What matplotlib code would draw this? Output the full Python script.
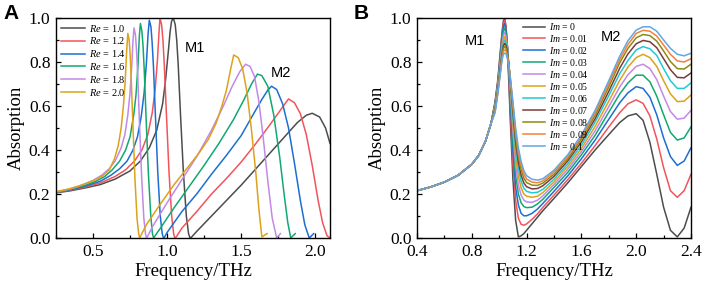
import numpy as np
import matplotlib
matplotlib.use("Agg")
import matplotlib.pyplot as plt
from matplotlib.ticker import MultipleLocator, FormatStrFormatter

# ---------------- Panel A: varying Re ----------------
re_labels = ["1.0", "1.2", "1.4", "1.6", "1.8", "2.0"]
re_colors = ["#4d4d4d", "#f2545b", "#1c6fd1", "#12a870", "#c389e6", "#dca21c"]

freq_re_10 = [0.25, 0.35, 0.45, 0.55, 0.65, 0.75, 0.82, 0.88, 0.93, 0.97, 0.99, 1.01, 1.02, 1.03, 1.042,
              1.055, 1.065, 1.075, 1.09, 1.11, 1.13, 1.145, 1.155, 1.165, 1.20, 1.30, 1.40, 1.50, 1.60, 1.70,
              1.80, 1.88, 1.94, 1.98, 2.03, 2.07, 2.10]
abs_re_10 = [0.205, 0.215, 0.228, 0.243, 0.268, 0.305, 0.35, 0.41, 0.49, 0.61, 0.72, 0.86, 0.935, 0.985, 1.0,
             0.97, 0.9, 0.79, 0.57, 0.3, 0.1, 0.02, 0.0, 0.004, 0.03, 0.1, 0.17, 0.24, 0.315, 0.39,
             0.465, 0.525, 0.558, 0.567, 0.55, 0.5, 0.43]

freq_re_12 = [0.25, 0.35, 0.45, 0.55, 0.65, 0.72, 0.78, 0.83, 0.87, 0.9, 0.92, 0.935, 0.945, 0.952, 0.963,
              0.972, 0.981, 0.995, 1.013, 1.031, 1.044, 1.052, 1.062, 1.1, 1.2, 1.3, 1.4, 1.5, 1.6, 1.7,
              1.78, 1.82, 1.86, 1.90, 1.94, 1.98, 2.02, 2.05, 2.08, 2.1]
abs_re_12 = [0.207, 0.218, 0.232, 0.25, 0.28, 0.31, 0.35, 0.40, 0.47, 0.57, 0.68, 0.81, 0.93, 1.0, 0.97,
             0.9, 0.79, 0.57, 0.3, 0.1, 0.02, 0.0, 0.005, 0.045, 0.12, 0.2, 0.27, 0.345, 0.43, 0.52,
             0.595, 0.632, 0.615, 0.565, 0.47, 0.33, 0.17, 0.07, 0.01, 0.0]

freq_re_14 = [0.25, 0.35, 0.45, 0.55, 0.62, 0.68, 0.73, 0.77, 0.8, 0.825, 0.845, 0.86, 0.872, 0.88, 0.891,
              0.899, 0.908, 0.921, 0.937, 0.954, 0.967, 0.976, 0.984, 1.0, 1.1, 1.2, 1.3, 1.4, 1.5, 1.58,
              1.64, 1.68, 1.705, 1.74, 1.78, 1.82, 1.86, 1.9, 1.93, 1.96, 1.99]
abs_re_14 = [0.208, 0.22, 0.236, 0.258, 0.285, 0.315, 0.35, 0.4, 0.46, 0.55, 0.66, 0.79, 0.93, 0.99, 0.96,
             0.89, 0.78, 0.56, 0.3, 0.1, 0.02, 0.0, 0.005, 0.025, 0.12, 0.2, 0.29, 0.375, 0.465, 0.56,
             0.63, 0.672, 0.69, 0.675, 0.61, 0.5, 0.34, 0.17, 0.06, 0.0, 0.02]

freq_re_16 = [0.25, 0.35, 0.45, 0.52, 0.58, 0.63, 0.68, 0.72, 0.75, 0.775, 0.79, 0.803, 0.813, 0.82, 0.83,
              0.838, 0.846, 0.858, 0.874, 0.89, 0.901, 0.909, 0.917, 0.95, 1.05, 1.15, 1.25, 1.35, 1.45,
              1.52, 1.57, 1.61, 1.64, 1.68, 1.72, 1.76, 1.79, 1.815, 1.835, 1.865]
abs_re_16 = [0.208, 0.222, 0.24, 0.258, 0.28, 0.31, 0.35, 0.4, 0.46, 0.56, 0.65, 0.78, 0.92, 0.975, 0.94,
             0.87, 0.76, 0.55, 0.29, 0.1, 0.02, 0.0, 0.008, 0.04, 0.14, 0.235, 0.33, 0.43, 0.54,
             0.63, 0.7, 0.745, 0.738, 0.69, 0.56, 0.37, 0.2, 0.07, 0.0, 0.02]

freq_re_18 = [0.25, 0.35, 0.43, 0.5, 0.56, 0.61, 0.65, 0.69, 0.715, 0.735, 0.75, 0.762, 0.77, 0.777, 0.787,
              0.794, 0.802, 0.813, 0.828, 0.843, 0.854, 0.861, 0.869, 0.9, 1.0, 1.1, 1.2, 1.3, 1.38, 1.44,
              1.49, 1.53, 1.56, 1.59, 1.62, 1.65, 1.68, 1.71, 1.74, 1.765]
abs_re_18 = [0.209, 0.224, 0.242, 0.262, 0.286, 0.315, 0.35, 0.41, 0.47, 0.56, 0.66, 0.79, 0.9, 0.955, 0.92,
             0.85, 0.74, 0.53, 0.28, 0.09, 0.02, 0.0, 0.008, 0.05, 0.16, 0.265, 0.37, 0.49, 0.6, 0.69,
             0.755, 0.79, 0.78, 0.735, 0.62, 0.45, 0.26, 0.09, 0.0, 0.02]

freq_re_20 = [0.25, 0.33, 0.4, 0.46, 0.52, 0.57, 0.61, 0.645, 0.67, 0.69, 0.705, 0.717, 0.727, 0.735, 0.744,
              0.751, 0.758, 0.769, 0.783, 0.797, 0.808, 0.815, 0.822, 0.86, 0.95, 1.05, 1.15, 1.22, 1.28,
              1.33, 1.37, 1.40, 1.43, 1.45, 1.48, 1.51, 1.54, 1.57, 1.60, 1.62, 1.64, 1.675]
abs_re_20 = [0.21, 0.222, 0.235, 0.25, 0.265, 0.285, 0.31, 0.36, 0.42, 0.5, 0.6, 0.71, 0.85, 0.93, 0.9,
             0.83, 0.72, 0.52, 0.27, 0.09, 0.02, 0.0, 0.01, 0.06, 0.15, 0.245, 0.33, 0.39, 0.45,
             0.52, 0.6, 0.67, 0.77, 0.832, 0.82, 0.77, 0.66, 0.49, 0.29, 0.13, 0.005, 0.02]

# ---------------- Panel B: varying Im ----------------
im_labels = ["0", "0.01", "0.02", "0.03", "0.04", "0.05", "0.06", "0.07", "0.08", "0.09", "0.1"]
im_colors = ["#4d4d4d", "#f2545b", "#1c6fd1", "#12a870", "#c389e6", "#dca21c",
             "#1fcad6", "#7b3b3b", "#8b8b12", "#f5803a", "#64a6e0"]

freq_b = [0.40, 0.50, 0.60, 0.70, 0.80, 0.85, 0.90, 0.94, 0.97, 0.99, 1.01, 1.02, 1.03, 1.04, 1.05,
          1.06, 1.07, 1.08, 1.10, 1.12, 1.14, 1.16, 1.18, 1.20, 1.24, 1.28, 1.32, 1.40, 1.50, 1.60,
          1.70, 1.80, 1.88, 1.94, 2.00, 2.05, 2.10, 2.15, 2.20, 2.25, 2.30, 2.35, 2.40]

# low-frequency part shared by every Im curve (0.40 - 0.94 THz)
base_b = [0.215, 0.232, 0.254, 0.285, 0.335, 0.375, 0.44, 0.52]

im_00 = base_b + [0.62, 0.72, 0.86, 0.93, 0.985, 1.0, 0.96, 0.86, 0.71, 0.55,
                  0.27, 0.08, 0.005, 0.01, 0.02, 0.035, 0.065, 0.095, 0.125, 0.18,
                  0.25, 0.325, 0.4, 0.47, 0.525, 0.555, 0.565, 0.535, 0.435, 0.29,
                  0.14, 0.035, 0.005, 0.045, 0.14]
im_01 = base_b + [0.615, 0.71, 0.85, 0.92, 0.975, 0.99, 0.955, 0.87, 0.74, 0.6,
                  0.34, 0.17, 0.09, 0.062, 0.058, 0.064, 0.085, 0.11, 0.14, 0.195,
                  0.265, 0.34, 0.42, 0.505, 0.57, 0.61, 0.628, 0.612, 0.555, 0.45,
                  0.32, 0.215, 0.185, 0.215, 0.29]
im_02 = base_b + [0.61, 0.70, 0.84, 0.905, 0.96, 0.975, 0.945, 0.87, 0.76, 0.64,
                  0.4, 0.23, 0.15, 0.112, 0.101, 0.101, 0.112, 0.132, 0.158, 0.212,
                  0.282, 0.36, 0.445, 0.54, 0.615, 0.66, 0.688, 0.68, 0.64, 0.56,
                  0.455, 0.37, 0.33, 0.35, 0.41]
im_03 = base_b + [0.605, 0.695, 0.825, 0.89, 0.94, 0.955, 0.93, 0.87, 0.775, 0.67,
                  0.45, 0.285, 0.2, 0.16, 0.143, 0.138, 0.14, 0.155, 0.177, 0.23,
                  0.298, 0.378, 0.467, 0.572, 0.655, 0.705, 0.74, 0.74, 0.71, 0.645,
                  0.56, 0.48, 0.445, 0.455, 0.505]
im_04 = base_b + [0.6, 0.69, 0.81, 0.87, 0.92, 0.935, 0.915, 0.86, 0.78, 0.69,
                  0.49, 0.33, 0.24, 0.195, 0.172, 0.164, 0.162, 0.172, 0.192, 0.243,
                  0.312, 0.393, 0.487, 0.597, 0.687, 0.742, 0.78, 0.79, 0.77, 0.72,
                  0.645, 0.575, 0.54, 0.545, 0.58]
im_05 = base_b + [0.595, 0.68, 0.8, 0.855, 0.9, 0.915, 0.9, 0.855, 0.785, 0.705,
                  0.52, 0.37, 0.28, 0.228, 0.2, 0.19, 0.185, 0.19, 0.207, 0.255,
                  0.325, 0.407, 0.507, 0.622, 0.717, 0.777, 0.82, 0.835, 0.82, 0.78,
                  0.715, 0.655, 0.62, 0.622, 0.65]
im_06 = base_b + [0.59, 0.675, 0.79, 0.845, 0.885, 0.9, 0.888, 0.85, 0.79, 0.715,
                  0.55, 0.405, 0.315, 0.258, 0.226, 0.212, 0.205, 0.208, 0.222, 0.267,
                  0.337, 0.422, 0.527, 0.647, 0.747, 0.807, 0.855, 0.87, 0.86, 0.83,
                  0.77, 0.715, 0.68, 0.68, 0.705]
im_07 = base_b + [0.585, 0.67, 0.78, 0.835, 0.872, 0.885, 0.875, 0.845, 0.79, 0.725,
                  0.575, 0.435, 0.345, 0.285, 0.25, 0.233, 0.223, 0.225, 0.238, 0.28,
                  0.35, 0.437, 0.542, 0.667, 0.772, 0.837, 0.883, 0.898, 0.892, 0.865,
                  0.815, 0.765, 0.73, 0.728, 0.75]
im_08 = base_b + [0.58, 0.665, 0.77, 0.825, 0.86, 0.87, 0.862, 0.835, 0.79, 0.73,
                  0.595, 0.46, 0.37, 0.31, 0.272, 0.252, 0.24, 0.239, 0.25, 0.29,
                  0.36, 0.45, 0.557, 0.687, 0.797, 0.862, 0.91, 0.925, 0.92, 0.895,
                  0.85, 0.802, 0.77, 0.768, 0.79]
im_09 = base_b + [0.575, 0.66, 0.762, 0.815, 0.848, 0.855, 0.85, 0.825, 0.785, 0.735,
                  0.61, 0.48, 0.39, 0.33, 0.29, 0.268, 0.254, 0.251, 0.26, 0.3,
                  0.37, 0.46, 0.57, 0.702, 0.812, 0.88, 0.93, 0.944, 0.94, 0.918,
                  0.877, 0.835, 0.805, 0.8, 0.815]
im_10 = base_b + [0.57, 0.655, 0.755, 0.805, 0.835, 0.84, 0.837, 0.815, 0.78, 0.735,
                  0.62, 0.5, 0.41, 0.348, 0.306, 0.283, 0.267, 0.263, 0.27, 0.308,
                  0.378, 0.468, 0.58, 0.715, 0.827, 0.897, 0.945, 0.96, 0.96, 0.94,
                  0.9, 0.862, 0.835, 0.828, 0.84]


def estilo_ejes(ax, xlim, paso_mayor, paso_menor):
    ax.set_xlim(*xlim)
    ax.set_ylim(0, 1.0)
    ax.xaxis.set_major_locator(MultipleLocator(paso_mayor))
    ax.xaxis.set_minor_locator(MultipleLocator(paso_menor))
    ax.yaxis.set_major_locator(MultipleLocator(0.2))
    ax.yaxis.set_minor_locator(MultipleLocator(0.1))
    ax.xaxis.set_major_formatter(FormatStrFormatter("%.1f"))
    ax.yaxis.set_major_formatter(FormatStrFormatter("%.1f"))
    ax.tick_params(which="both", direction="in", top=False, right=False, labelsize=12.5, width=0.9)
    ax.tick_params(which="major", length=3.5, pad=4)
    ax.tick_params(which="minor", length=2)
    for s in ax.spines.values():
        s.set_linewidth(1.0)
    ax.set_xlabel("Frequency/THz", fontsize=13.5)
    ax.set_ylabel("Absorption", fontsize=13.5)
    ax.xaxis.set_label_coords(0.5, -0.115)
    ax.yaxis.set_label_coords(-0.115, 0.5)


def main():
    plt.rcParams["font.family"] = ["Liberation Serif", "DejaVu Serif"]
    plt.rcParams["mathtext.fontset"] = "custom"
    plt.rcParams["mathtext.rm"] = "Liberation Serif"
    plt.rcParams["mathtext.it"] = "Liberation Serif:italic"

    fig = plt.figure(figsize=(7.06, 2.88), dpi=100)
    ax_a = fig.add_axes([56 / 706, 1 - 238 / 288, 274 / 706, 220 / 288])
    ax_b = fig.add_axes([417 / 706, 1 - 238 / 288, 274 / 706, 220 / 288])

    curvas_a = [(freq_re_10, abs_re_10), (freq_re_12, abs_re_12), (freq_re_14, abs_re_14),
                (freq_re_16, abs_re_16), (freq_re_18, abs_re_18), (freq_re_20, abs_re_20)]
    for (f, a), lab, col in zip(curvas_a, re_labels, re_colors):
        ax_a.plot(f, a, color=col, lw=1.1, label=f"$Re$ = {lab}")

    estilo_ejes(ax_a, (0.25, 2.1), 0.5, 0.25)
    ax_a.legend(loc="upper left", bbox_to_anchor=(0.0, 1.0), frameon=False, fontsize=7.5,
                handlelength=2.3, handletextpad=0.4, labelspacing=0.17,
                borderaxespad=0.15, borderpad=0.3)
    ax_a.text(1.19, 0.864, "M1", family="Liberation Sans", fontsize=10.5, ha="center", va="center")
    ax_a.text(1.77, 0.75, "M2", family="Liberation Sans", fontsize=10.5, ha="center", va="center")

    curvas_b = [im_00, im_01, im_02, im_03, im_04, im_05, im_06, im_07, im_08, im_09, im_10]
    for a, lab, col in zip(curvas_b, im_labels, im_colors):
        ax_b.plot(freq_b, a, color=col, lw=1.1, label=f"$Im$ = {lab}")

    estilo_ejes(ax_b, (0.4, 2.4), 0.4, 0.2)
    ax_b.legend(loc="upper left", bbox_to_anchor=(0.375, 1.0), frameon=False, fontsize=7,
                handlelength=2.3, handletextpad=0.4, labelspacing=0.1,
                borderaxespad=0.1, borderpad=0.2)
    ax_b.text(0.823, 0.895, "M1", family="Liberation Sans", fontsize=10.5, ha="center", va="center")
    ax_b.text(1.816, 0.914, "M2", family="Liberation Sans", fontsize=10.5, ha="center", va="center")

    fig.text(3 / 706, 1 - 4 / 288, "A", family="Liberation Sans", weight="bold", fontsize=15,
             ha="left", va="top")
    fig.text(354 / 706, 1 - 4 / 288, "B", family="Liberation Sans", weight="bold", fontsize=15,
             ha="left", va="top")

    fig.savefig("out.png", dpi=100)


if __name__ == "__main__":
    main()
